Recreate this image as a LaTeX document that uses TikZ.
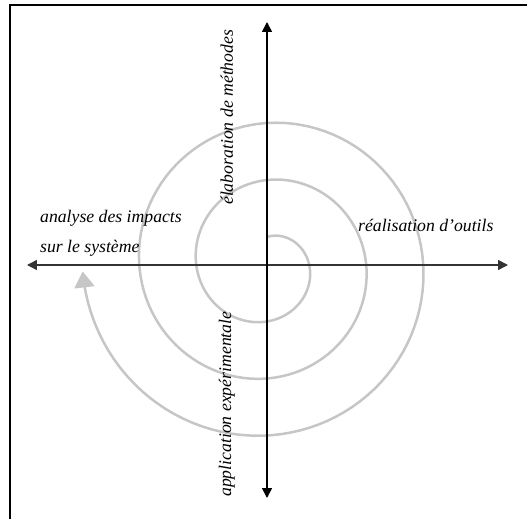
\documentclass[tikz,border=0pt]{standalone}
\usepackage{fontspec}
\setmainfont{Liberation Serif}
\usetikzlibrary{arrows.meta}

\begin{document}
\begin{tikzpicture}[
  x=1pt, y=1pt,
  axis/.style={draw, line width=1.5pt, {Triangle[length=10pt,width=10pt]}-{Triangle[length=10pt,width=10pt]}},
  spiral/.style={draw=gray!45, line width=2.5pt, -{Triangle[length=16pt,width=20pt]}},
  label/.style={font=\fontsize{17.7}{30}\selectfont\itshape, inner sep=0pt},
  frame/.style={draw, line width=2.2pt}
]
  \useasboundingbox (-267,-254) rectangle (260,265);

  % frame (top and left only)
  \draw[frame] (-257,-254) -- (-257,260) -- (260,260);

  \coordinate (xl) at (-240,0);
  \coordinate (xr) at (241,0);
  \coordinate (yt) at (0,243);
  \coordinate (yb) at (0,-233);

  \draw[spiral] plot[domain=0:988, samples=300, variable=\t]
    ({(28+0.15833*\t)*sin(\t)}, {(28+0.15833*\t)*cos(\t)});

  \draw[axis, black!80] (xl) -- (xr);
  \draw[axis] (yb) -- (yt);

  \node[label, anchor=base west] (impacts) at (-227,42) {analyse des impacts};
  \node[label, anchor=base west] (systeme) at (-227,12) {sur le système};
  \node[label, anchor=base west] (outils) at (91,33) {réalisation d'outils};
  \node[label, anchor=base west, rotate=90] (methodes) at (-34,60) {élaboration de méthodes};
  \node[label, anchor=base west, rotate=90] (appli) at (-36,-232) {application expérimentale};

\end{tikzpicture}
\end{document}
